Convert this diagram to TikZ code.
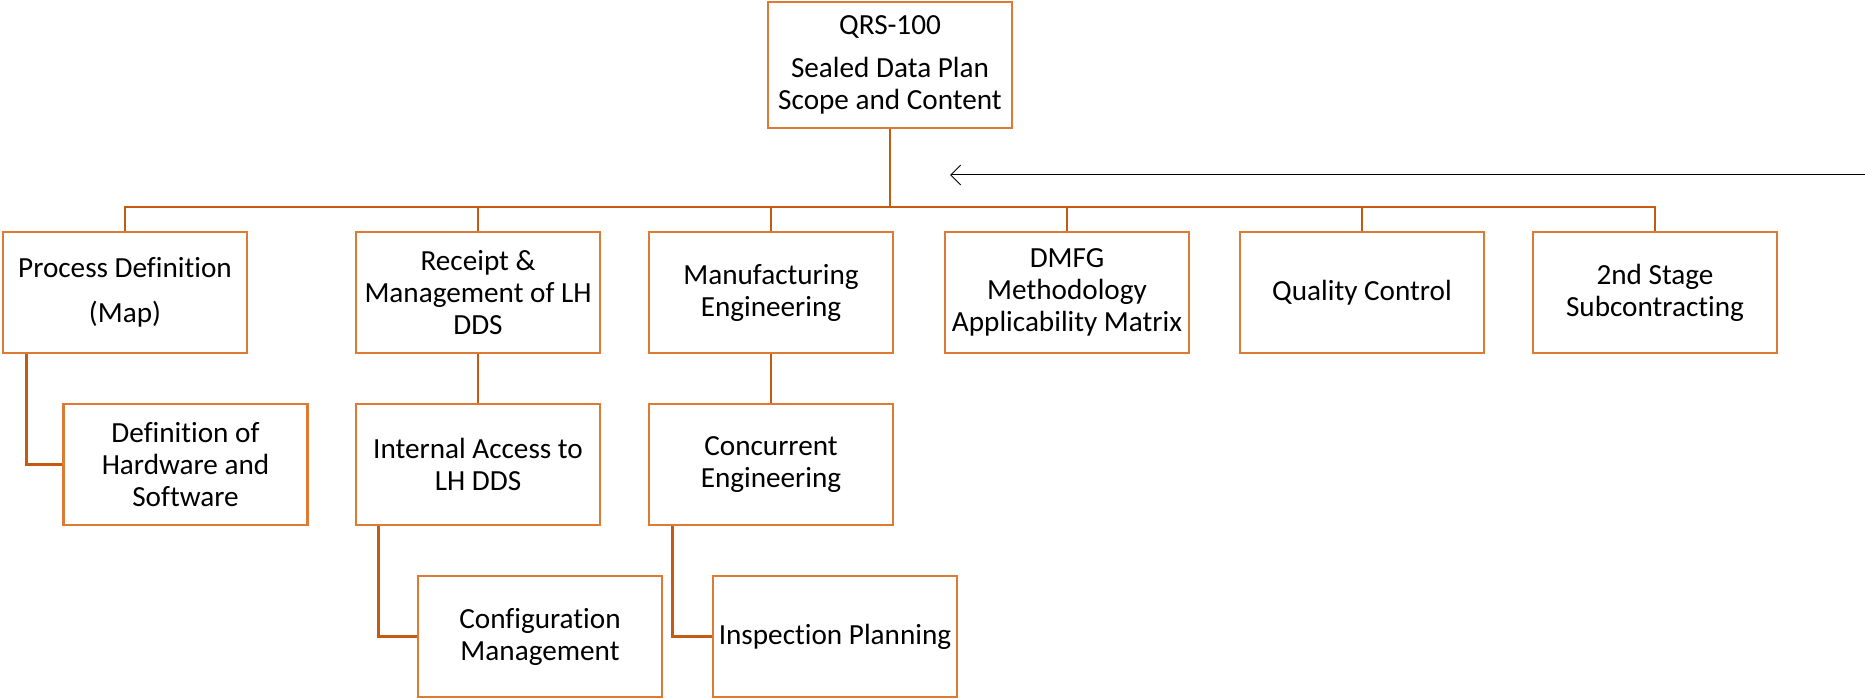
\documentclass[tikz,border=0pt]{standalone}
\usepackage{fontspec}
\setmainfont{Carlito}[Ligatures=NoCommon]
\usetikzlibrary{arrows.meta}
\definecolor{boxorange}{RGB}{222,122,52}
\definecolor{lineorange}{RGB}{197,90,17}

\begin{document}
\begin{tikzpicture}[x=0.5pt,y=-0.5pt,
    box/.style={draw=boxorange, line width=1.4pt, minimum width=122pt, minimum height=60.5pt,
      inner sep=0pt, align=center, font=\fontsize{14.6}{16}\selectfont},
    link/.style={draw=lineorange, line width=1.4pt}]
  \useasboundingbox (0,0) rectangle (1865,699);
  % top of the tree
  \node[box, minimum height=63pt] (top) at (890,65) {QRS-100\\[5.5pt]Sealed Data Plan\\Scope and Content};
  % first row
  \node[box] (pd) at (125,292.5) {Process Definition\\[6.5pt](Map)};
  \node[box] (rec) at (478,292.5) {Receipt \&\\Management of LH\\DDS};
  \node[box] (mfg) at (771,292.5) {Manufacturing\\Engineering};
  \node[box] (dmfg) at (1067,292.5) {DMFG\\Methodology\\Applicability Matrix};
  \node[box] (qc) at (1362,292.5) {Quality Control};
  \node[box] (sub) at (1655,292.5) {2nd Stage\\Subcontracting};
  % second row
  \node[box] (hw) at (185.5,464.5) {Definition of\\Hardware and\\Software};
  \node[box] (ia) at (478,464.5) {Internal Access to\\LH DDS};
  \node[box] (ce) at (771,464.5) {Concurrent\\Engineering};
  % third row
  \node[box] (cm) at (540,636.5) {Configuration\\Management};
  \node[box] (ip) at (835,636.5) {Inspection Planning};

  \coordinate (bus) at (890,207);
  \foreach \n in {pd,rec,mfg,dmfg,qc,sub}
    \draw[link] (top.south) -- (bus) -| (\n.north);
  \draw[link] ([xshift=12.5pt]pd.south west) |- (hw.west);
  \draw[link] (rec.south) -- (ia.north);
  \draw[link] (mfg.south) -- (ce.north);
  \draw[link] ([xshift=12pt]ia.south west) |- (cm.west);
  \draw[link] ([xshift=12.5pt]ce.south west) |- (ip.west);

  % arrow coming in from the right
  \coordinate (ar) at (1865,175);
  \coordinate (al) at (950,175);
  \draw[-{Straight Barb[length=5pt,width=10pt]}, line width=0.5pt] (ar) -- (al);
\end{tikzpicture}
\end{document}
